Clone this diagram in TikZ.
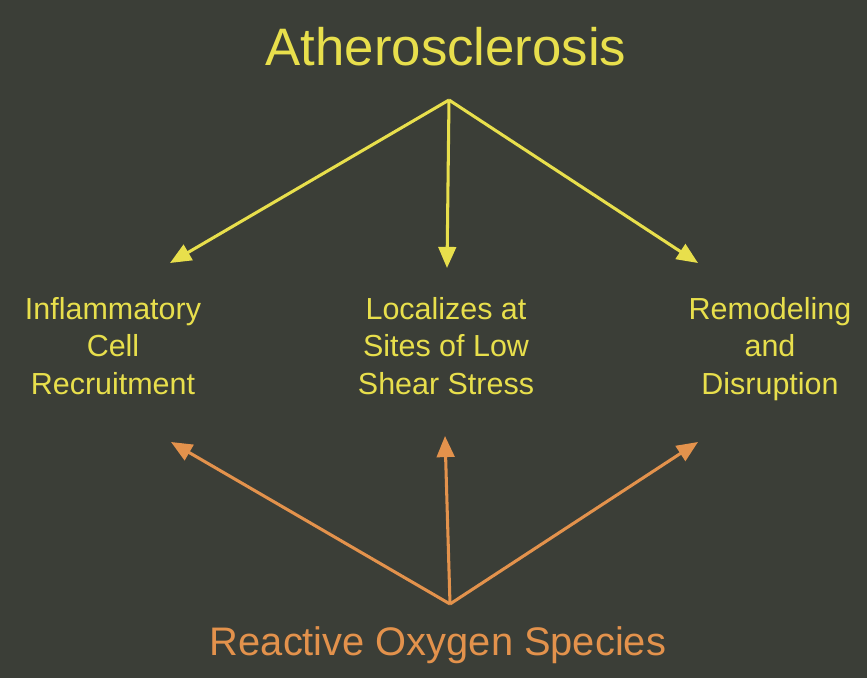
\documentclass[tikz,border=0pt]{standalone}
\usepackage{fontspec}
\setmainfont{Liberation Sans}
\usetikzlibrary{arrows.meta}
\definecolor{bg}{HTML}{3B3E37}
\definecolor{ylw}{HTML}{E8DF4C}
\definecolor{org}{HTML}{E3924C}
\begin{document}
\begin{tikzpicture}[x=0.03cm,y=-0.03cm,
  yarrow/.style={draw=ylw,line width=2.6pt,-{Triangle[length=18pt,width=15pt]}},
  oarrow/.style={draw=org,line width=2.6pt,-{Triangle[length=18pt,width=15pt]}},
  label/.style={text=ylw,font=\fontsize{26}{32}\selectfont,align=center,inner sep=0pt,anchor=north}]
\fill[bg] (0,0) rectangle (867,678);
\useasboundingbox (0,0) rectangle (867,678);
\node[text=ylw,font=\fontsize{45}{54}\selectfont,anchor=base,inner sep=0pt] (title) at (446,66) {Atherosclerosis};
\node[text=org,font=\fontsize{34}{40}\selectfont,anchor=base,inner sep=0pt] (ros) at (438,655) {Reactive Oxygen Species};
\coordinate (top) at (449,100);
\coordinate (bot) at (450,604);
\node[label] (infl) at (113,297) {Inflammatory\\Cell\\Recruitment};
\node[label] (loc) at (446,297) {Localizes at\\Sites of Low\\Shear Stress};
\node[label] (rem) at (770,297) {Remodeling\\and\\Disruption};
\coordinate (yl) at (170,263);
\coordinate (ym) at (447,268);
\coordinate (yr) at (698,263);
\coordinate (ol) at (171,442);
\coordinate (om) at (445,436);
\coordinate (or) at (698,442);
\draw[yarrow] (top) -- (yl);
\draw[yarrow] (top) -- (ym);
\draw[yarrow] (top) -- (yr);
\draw[oarrow] (bot) -- (ol);
\draw[oarrow] (bot) -- (om);
\draw[oarrow] (bot) -- (or);
\end{tikzpicture}
\end{document}
